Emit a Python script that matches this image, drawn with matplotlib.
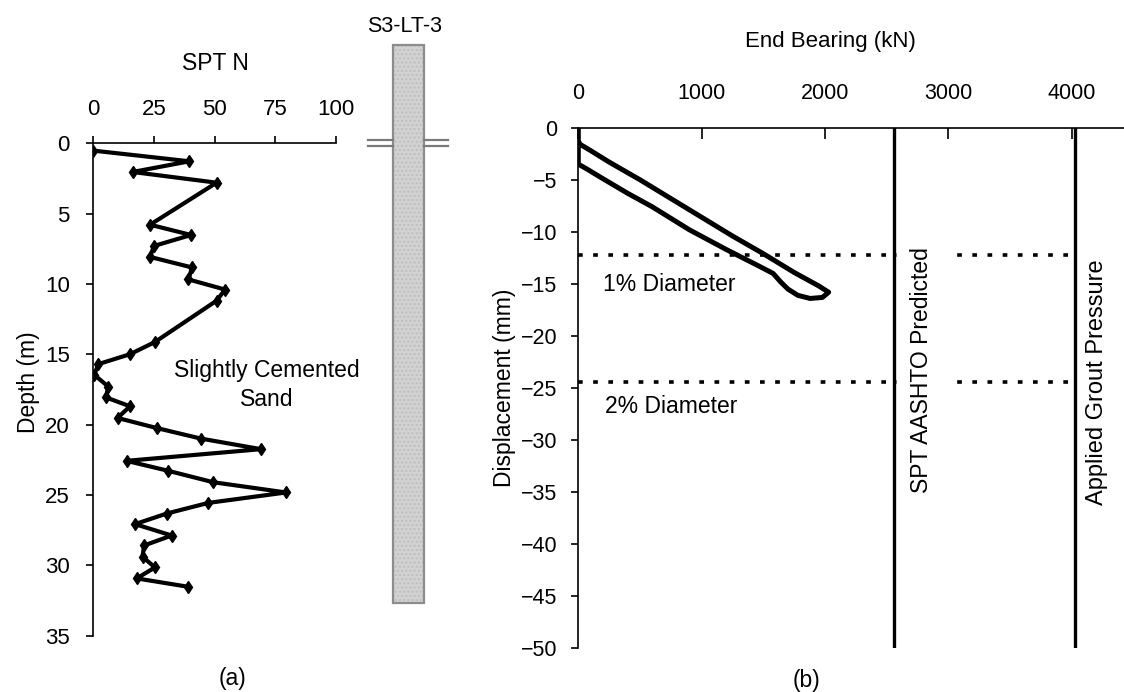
import numpy as np
import matplotlib
matplotlib.use("Agg")
import matplotlib.pyplot as plt
from matplotlib.patches import Rectangle

plt.rcParams['font.family'] = ['Liberation Sans', 'DejaVu Sans']

# (a) SPT N profile
spt_n = [0, 39.6, 16.2, 50.8, 23.4, 40.3, 25.0, 23.4, 40.7, 39.2, 54.3, 50.8,
         25.4, 15.1, 2.1, 0.4, 6.2, 5.2, 15.1, 10.0, 26.4, 44.4, 69.1, 13.7,
         30.9, 49.4, 79.4, 47.4, 30.2, 17.2, 32.3, 20.9, 20.3, 25.4, 17.9, 38.9]
depth = [0.52, 1.28, 2.04, 2.80, 5.79, 6.52, 7.30, 8.08, 8.83, 9.68, 10.40, 11.19,
         14.13, 15.0, 15.7, 16.47, 17.3, 18.07, 18.7, 19.53, 20.26, 21.0, 21.75, 22.58,
         23.29, 24.1, 24.83, 25.57, 26.33, 27.08, 27.89, 28.6, 29.4, 30.16, 30.94, 31.53]
pile_top = -7.0     # drawn above ground
pile_toe = 32.7

# (b) end bearing vs displacement (load then unload)
bearing = [0, 0, 15, 100, 250, 500, 750, 1000, 1250, 1500, 1750, 1950, 2030,
           1980, 1880, 1780, 1700, 1640, 1580, 1450, 1200, 900, 600, 400, 200, 60, 0, 0]
disp = [0, -1.3, -1.6, -2.2, -3.3, -5.0, -6.8, -8.6, -10.4, -12.1, -13.9, -15.2, -15.8,
        -16.3, -16.4, -16.1, -15.5, -14.8, -14.0, -13.2, -11.7, -9.8, -7.6, -6.3, -4.9, -3.9, -3.5, -2.1]
one_pct = -12.2
two_pct = -24.4
aashto = 2560
grout = 4030

W, H = 1124, 692
fig = plt.figure(figsize=(W / 100, H / 100), dpi=100)

def fx(x):
    return x / W

def fy(y):
    return 1 - y / H

# ---------- panel (a)
ax1 = fig.add_axes([fx(93.3), fy(635.5), fx(336) - fx(93.3), fy(143.3) - fy(635.5)])
ax1.plot(spt_n, depth, color='black', lw=3, marker='d', ms=6, zorder=3)
ax1.set_xlim(0, 100)
ax1.set_ylim(35, 0)
ax1.set_xticks([0, 25, 50, 75, 100])
ax1.set_yticks(np.arange(0, 36, 5))
ax1.xaxis.tick_top()
ax1.spines['right'].set_visible(False)
ax1.spines['bottom'].set_visible(False)
for s in ['left', 'top']:
    ax1.spines[s].set_linewidth(1.2)
ax1.tick_params(direction='out', length=5, width=1.2, labelsize=16, pad=12)
ax1.text(71.6, 17.2, 'Slightly Cemented\nSand', ha='center', va='center',
         fontsize=16.5, linespacing=1.35)

fig.text(fx(215), fy(63), 'SPT N', ha='center', va='center', fontsize=16.5)
fig.text(fx(28), fy(382), 'Depth (m)', ha='center', va='center', rotation=90, fontsize=16.5)
fig.text(fx(232), fy(678), '(a)', ha='center', va='center', fontsize=16.5)

# pile sketch, same depth scale as panel (a)
axp = fig.add_axes([fx(368), fy(635.5), fx(448) - fx(368), fy(143.3) - fy(635.5)])
axp.set_xlim(0, 1)
axp.set_ylim(35, 0)
axp.axis('off')
px0, px1 = 0.3125, 0.70
axp.add_patch(Rectangle((px0, pile_top), px1 - px0, pile_toe - pile_top, facecolor='#d2d2d2',
                        edgecolor='#bdbdbd', hatch='....', lw=0, clip_on=False))
axp.add_patch(Rectangle((px0, pile_top), px1 - px0, pile_toe - pile_top, fill=False,
                        edgecolor='#8c8c8c', lw=1.6, clip_on=False))
for dy in [-0.22, 0.22]:
    axp.plot([0, px0], [dy, dy], color='#7a7a7a', lw=1.6, clip_on=False)
    axp.plot([px1, 1], [dy, dy], color='#7a7a7a', lw=1.6, clip_on=False)
fig.text(fx(405), fy(26), 'S3-LT-3', ha='center', va='center', fontsize=15.5)

# ---------- panel (b)
ax2 = fig.add_axes([fx(578.3), fy(648.3), 1 - fx(578.3), fy(127.7) - fy(648.3)])
ax2.plot(bearing, disp, color='black', lw=3.6, solid_joinstyle='round', zorder=3)
ax2.axhline(one_pct, color='black', lw=2.6, ls=(0, (1.3, 2.9)), zorder=1)
ax2.axhline(two_pct, color='black', lw=2.6, ls=(0, (1.3, 2.9)), zorder=1)
ax2.axvline(aashto, color='black', lw=2.4, zorder=4)
ax2.axvline(grout, color='black', lw=2.4, zorder=4)
ax2.set_xlim(0, 4425)
ax2.set_ylim(-50, 0)
ax2.set_xticks([0, 1000, 2000, 3000, 4000])
ax2.set_yticks(np.arange(-50, 1, 5))
ax2.xaxis.tick_top()
ax2.spines['right'].set_visible(False)
ax2.spines['bottom'].set_visible(False)
for s in ['left', 'top']:
    ax2.spines[s].set_linewidth(1.2)
ax2.tick_params(axis='x', direction='in', length=8, width=1.2, labelsize=15.5, pad=17)
ax2.tick_params(axis='y', direction='out', length=5, width=1.2, labelsize=15.5, pad=10)

ax2.text(200, -15.1, '1% Diameter', ha='left', va='center', fontsize=16.5)
ax2.text(216, -26.8, '2% Diameter', ha='left', va='center', fontsize=16.5)
ax2.text(2787, -23.3, 'SPT AASHTO Predicted', rotation=90, ha='center', va='center',
         fontsize=16.5, zorder=2,
         bbox=dict(boxstyle='square,pad=0.6', facecolor='white', edgecolor='none'))
ax2.text(4207, -24.4, 'Applied Grout Pressure', rotation=90, ha='center', va='center',
         fontsize=17, zorder=2, clip_on=False,
         bbox=dict(boxstyle='square,pad=0.6', facecolor='white', edgecolor='none'))

fig.text(fx(830), fy(42), 'End Bearing (kN)', ha='center', va='center', fontsize=16)
fig.text(fx(505), fy(388), 'Displacement (mm)', ha='center', va='center', rotation=90, fontsize=16.5)
fig.text(fx(807), fy(680), '(b)', ha='center', va='center', fontsize=16.5)

fig.savefig('out.png', dpi=100)
